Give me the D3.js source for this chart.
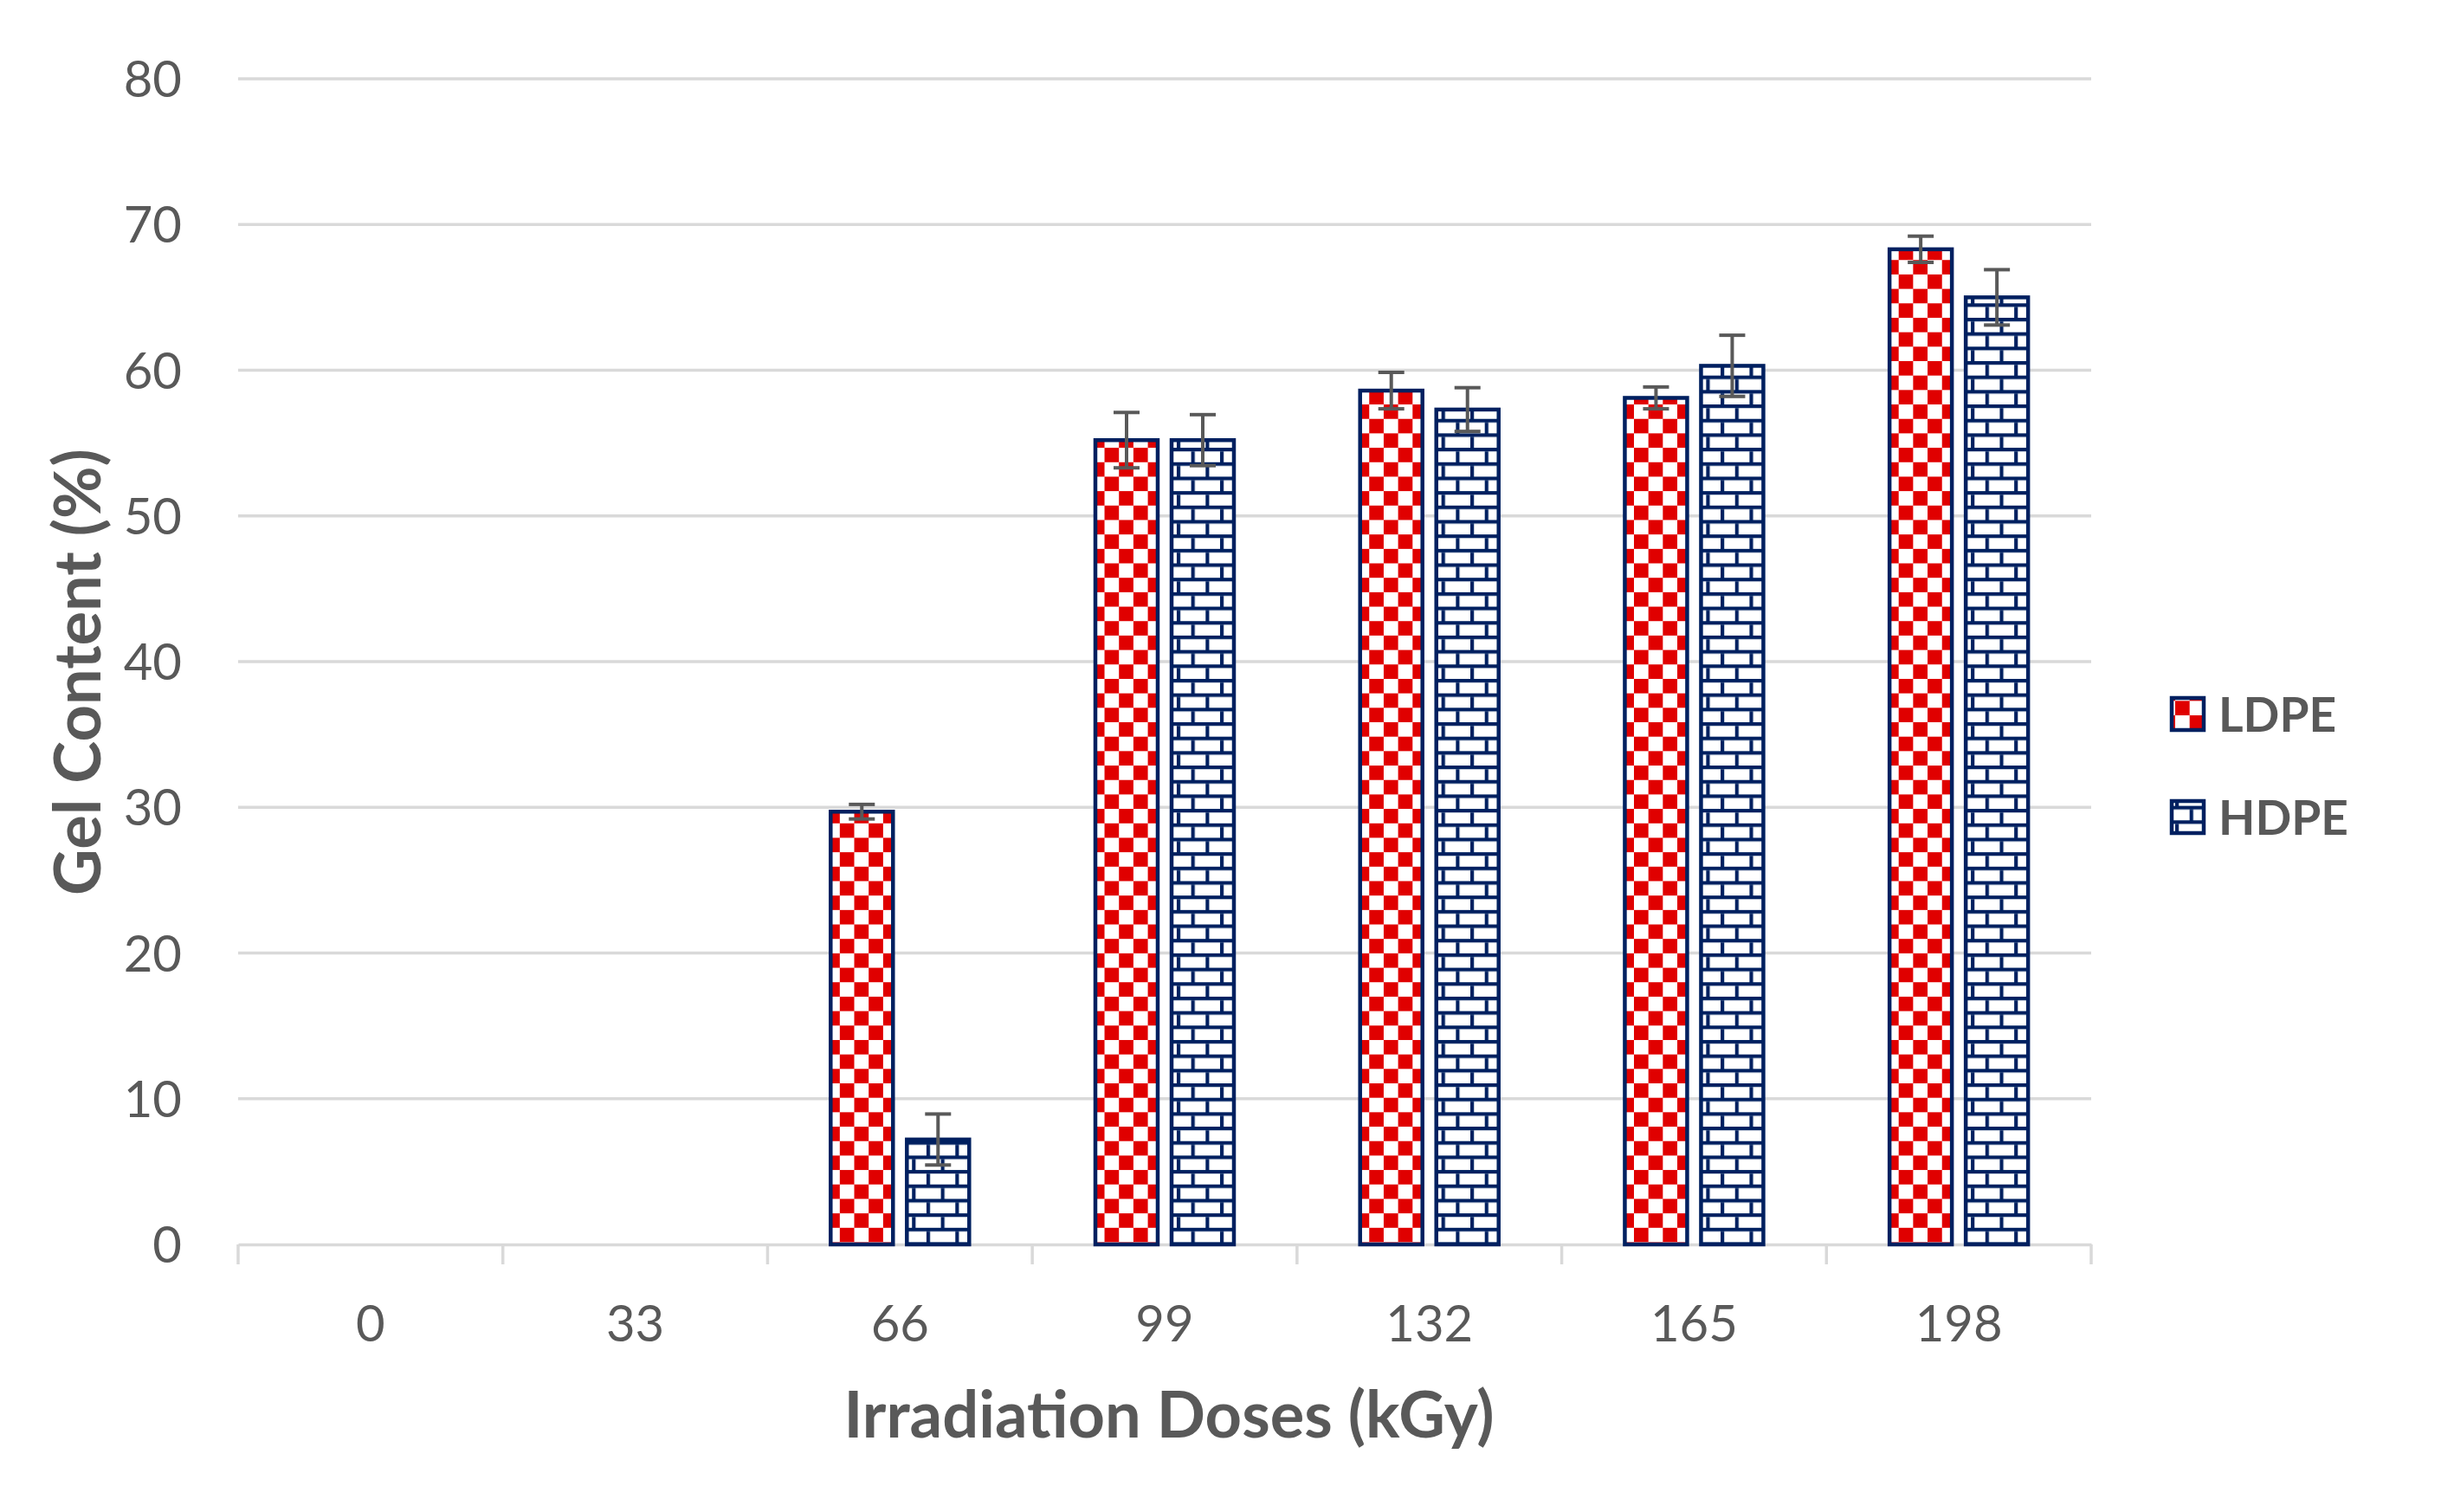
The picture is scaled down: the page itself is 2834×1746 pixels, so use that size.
<!DOCTYPE html>
<html>
<head>
<meta charset="utf-8">
<script src="https://cdn.jsdelivr.net/npm/d3@7"></script>
<style>
  body { margin: 0; background: #fff; }
  text { font-family: Lato, "Open Sans", sans-serif; fill: #595959; }
</style>
</head>
<body>
<script>
// data
const doses = ["0", "33", "66", "99", "132", "165", "198"];
const series = ["LDPE", "HDPE"];
const ldpe = [null, null, 29.7, 55.2, 58.6, 58.1, 68.3];
const ldpeErr = [0, 0, 0.5, 1.9, 1.25, 0.75, 0.9];
const hdpe = [null, null, 7.2, 55.2, 57.3, 60.3, 65.0];
const hdpeErr = [0, 0, 1.75, 1.75, 1.5, 2.1, 1.9];
const yTicks = [0, 10, 20, 30, 40, 50, 60, 70, 80];

const width = 2834;
const height = 1746;
const marginLeft = 275;
const marginRight = 419;
const marginTop = 91;
const marginBottom = 309;

const navy = "#002060";
const red = "#e00000";
const grey = "#595959";
const gridColor = "#d9d9d9";
const unit = 4.17; // one pattern pixel

const rows = doses.map((d, i) => ({
  dose: d,
  values: [
    { key: "LDPE", v: ldpe[i], e: ldpeErr[i] },
    { key: "HDPE", v: hdpe[i], e: hdpeErr[i] },
  ],
}));

const x = d3.scaleBand().domain(doses).range([marginLeft, width - marginRight]);
const y = d3.scaleLinear().domain([0, 80]).range([height - marginBottom, marginTop]);
const bw = x.bandwidth();
const xSub = d3
  .scaleBand()
  .domain(series)
  .range([bw / 2 - 80, bw / 2 + 80])
  .paddingInner(0.182);

const svg = d3
  .select("body")
  .append("svg")
  .attr("width", width)
  .attr("height", height)
  .attr("viewBox", [0, 0, width, height]);

// patterns
const defs = svg.append("defs");
const makeChecker = (id, ox, oy) => {
  const p = defs
    .append("pattern")
    .attr("id", id)
    .attr("patternUnits", "userSpaceOnUse")
    .attr("x", ox)
    .attr("y", oy)
    .attr("width", unit * 8)
    .attr("height", unit * 8);
  p.append("rect").attr("width", unit * 8).attr("height", unit * 8).attr("fill", "#fff");
  p.append("rect").attr("width", unit * 4).attr("height", unit * 4).attr("fill", red);
  p.append("rect")
    .attr("x", unit * 4)
    .attr("y", unit * 4)
    .attr("width", unit * 4)
    .attr("height", unit * 4)
    .attr("fill", red);
};
const makeBrick = (id, ox, oy) => {
  const p = defs
    .append("pattern")
    .attr("id", id)
    .attr("patternUnits", "userSpaceOnUse")
    .attr("x", ox)
    .attr("y", oy)
    .attr("width", unit * 8)
    .attr("height", unit * 8);
  p.append("rect").attr("width", unit * 8).attr("height", unit * 8).attr("fill", "#fff");
  p.append("rect").attr("width", unit * 8).attr("height", unit).attr("fill", navy);
  p.append("rect").attr("y", unit * 4).attr("width", unit * 8).attr("height", unit).attr("fill", navy);
  p.append("rect").attr("y", unit).attr("width", unit).attr("height", unit * 3).attr("fill", navy);
  p.append("rect")
    .attr("x", unit * 4)
    .attr("y", unit * 5)
    .attr("width", unit)
    .attr("height", unit * 3)
    .attr("fill", navy);
};
makeChecker("checker", 0, 0);
makeBrick("brick", 0, 0);

const fillFor = { LDPE: "url(#checker)", HDPE: "url(#brick)" };

// gridlines
svg
  .append("g")
  .selectAll("line")
  .data(yTicks.slice(1))
  .join("line")
  .attr("x1", marginLeft)
  .attr("x2", width - marginRight)
  .attr("y1", (d) => y(d))
  .attr("y2", (d) => y(d))
  .attr("stroke", gridColor)
  .attr("stroke-width", 3.5);

// y-axis labels
svg
  .append("g")
  .selectAll("text")
  .data(yTicks)
  .join("text")
  .attr("x", 210)
  .attr("y", (d) => y(d) + 21)
  .attr("text-anchor", "end")
  .attr("font-size", 58)
  .text((d) => d);

// x-axis
const xAxis = d3
  .axisBottom(x)
  .tickSize(0)
  .tickSizeOuter(0)
  .tickPadding(0);
svg
  .append("g")
  .attr("transform", `translate(0,${y(0)})`)
  .call(xAxis)
  .call((g) => g.select(".domain").attr("stroke", gridColor).attr("stroke-width", 3.5))
  .call((g) =>
    g
      .selectAll(".tick text")
      .attr("y", 112)
      .attr("dy", null)
      .attr("font-size", 58)
      .attr("font-family", null)
      .attr("fill", grey),
  );

// category boundary ticks
svg
  .append("g")
  .selectAll("line")
  .data(d3.range(doses.length + 1))
  .join("line")
  .attr("x1", (i) => marginLeft + i * bw)
  .attr("x2", (i) => marginLeft + i * bw)
  .attr("y1", y(0))
  .attr("y2", y(0) + 23)
  .attr("stroke", gridColor)
  .attr("stroke-width", 3.5);

// bars
const groups = svg
  .append("g")
  .selectAll("g")
  .data(rows)
  .join("g")
  .attr("transform", (d) => `translate(${x(d.dose)},0)`);

groups
  .selectAll("rect")
  .data((d) => d.values.filter((v) => v.v !== null))
  .join("rect")
  .attr("x", (d) => xSub(d.key))
  .attr("y", (d) => y(d.v))
  .attr("width", xSub.bandwidth())
  .attr("height", (d) => y(0) - y(d.v))
  .attr("fill", (d) => fillFor[d.key])
  .attr("stroke", navy)
  .attr("stroke-width", 4.5);

// error bars
const err = groups
  .selectAll("g.err")
  .data((d) => d.values.filter((v) => v.v !== null))
  .join("g")
  .attr("class", "err")
  .attr("stroke", grey)
  .attr("stroke-width", 4);
const cx = (d) => xSub(d.key) + xSub.bandwidth() / 2;
err
  .append("line")
  .attr("x1", cx)
  .attr("x2", cx)
  .attr("y1", (d) => y(d.v + d.e))
  .attr("y2", (d) => y(d.v - d.e));
err
  .append("line")
  .attr("x1", (d) => cx(d) - 15)
  .attr("x2", (d) => cx(d) + 15)
  .attr("y1", (d) => y(d.v + d.e))
  .attr("y2", (d) => y(d.v + d.e));
err
  .append("line")
  .attr("x1", (d) => cx(d) - 15)
  .attr("x2", (d) => cx(d) + 15)
  .attr("y1", (d) => y(d.v - d.e))
  .attr("y2", (d) => y(d.v - d.e));

// axis titles
svg
  .append("text")
  .attr("x", 1350)
  .attr("y", 1660)
  .attr("text-anchor", "middle")
  .attr("font-size", 74)
  .attr("font-weight", "bold")
  .text("Irradiation Doses (kGy)");

svg
  .append("text")
  .attr("transform", "translate(116,776) rotate(-90)")
  .attr("text-anchor", "middle")
  .attr("font-size", 74)
  .attr("font-weight", "bold")
  .text("Gel Content (%)");

// legend
const legendY = [804, 923];
makeChecker("checkerLegend", 2508, 806);
makeBrick("brickLegend", 2508, 925);
const legendFill = { LDPE: "url(#checkerLegend)", HDPE: "url(#brickLegend)" };
const legend = svg
  .append("g")
  .selectAll("g")
  .data(series)
  .join("g")
  .attr("transform", (d, i) => `translate(2506,${legendY[i]})`);
legend
  .append("rect")
  .attr("x", 2)
  .attr("y", 2)
  .attr("width", 37)
  .attr("height", 37)
  .attr("fill", (d) => legendFill[d])
  .attr("stroke", navy)
  .attr("stroke-width", 4.5);
legend
  .append("text")
  .attr("x", 56)
  .attr("y", 41)
  .attr("font-size", 55)
  .attr("font-weight", "bold")
  .text((d) => d);
</script>
</body>
</html>
